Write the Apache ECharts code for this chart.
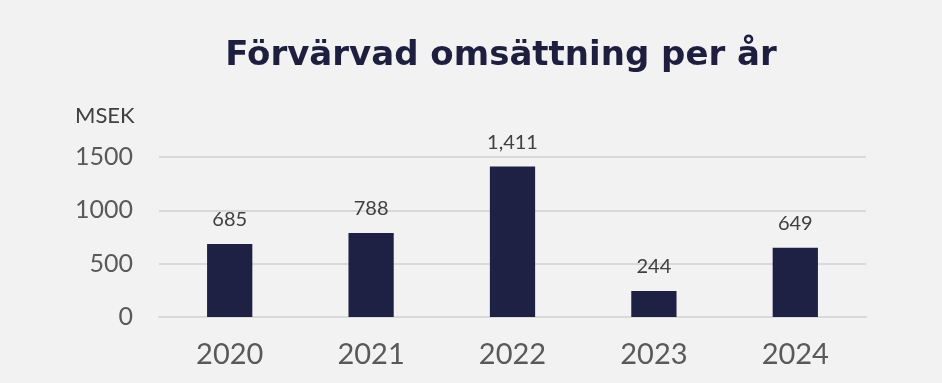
<!DOCTYPE html>
<html><head><meta charset="utf-8">
<script src="https://cdn.jsdelivr.net/npm/echarts@6/dist/echarts.min.js"></script>
<style>html,body{margin:0;padding:0;background:#f2f2f2}#c{width:942px;height:383px}</style>
</head><body><div id="c"></div>
<script>
const categories = ['2020','2021','2022','2023','2024'];
const values = [685, 788, 1411, 244, 649];
const yTicks = [0, 500, 1000, 1500];

const chart = echarts.init(document.getElementById('c'));
chart.setOption({
  backgroundColor: '#f2f2f2',
  animation: false,
  title: {
    text: 'Förvärvad omsättning per år',
    left: 496, top: 34, textAlign: 'center',
    textStyle: {fontFamily: 'DejaVu Sans', fontWeight: 700, fontSize: 34, color: '#1e1e3f'}
  },
  graphic: [{
    type: 'text', left: 75, top: 105,
    style: {text: 'MSEK', font: '22px Lato', fill: '#404040'}
  }],
  grid: {left: 159, right: 76, top: 157, bottom: 66},
  xAxis: {
    type: 'category', data: categories,
    axisLine: {lineStyle: {color: '#d9d9d9', width: 2}},
    axisTick: {show: false},
    axisLabel: {fontFamily: 'Lato', fontSize: 29, color: '#595959', margin: 23}
  },
  yAxis: {
    type: 'value', min: yTicks[0], max: yTicks[yTicks.length-1], interval: 500,
    axisLine: {show: false}, axisTick: {show: false},
    splitLine: {lineStyle: {color: '#d9d9d9', width: 2}},
    axisLabel: {fontFamily: 'Lato', fontSize: 25, color: '#595959', margin: 26, formatter: v => String(v)}
  },
  series: [{
    type: 'bar', data: values, barWidth: '32%',
    itemStyle: {color: '#1e2044'},
    label: {
      show: true, position: 'top', distance: 14,
      fontFamily: 'Lato', fontSize: 20, color: '#404040',
      formatter: p => p.value.toLocaleString('en-US')
    }
  }]
});
</script></body></html>
